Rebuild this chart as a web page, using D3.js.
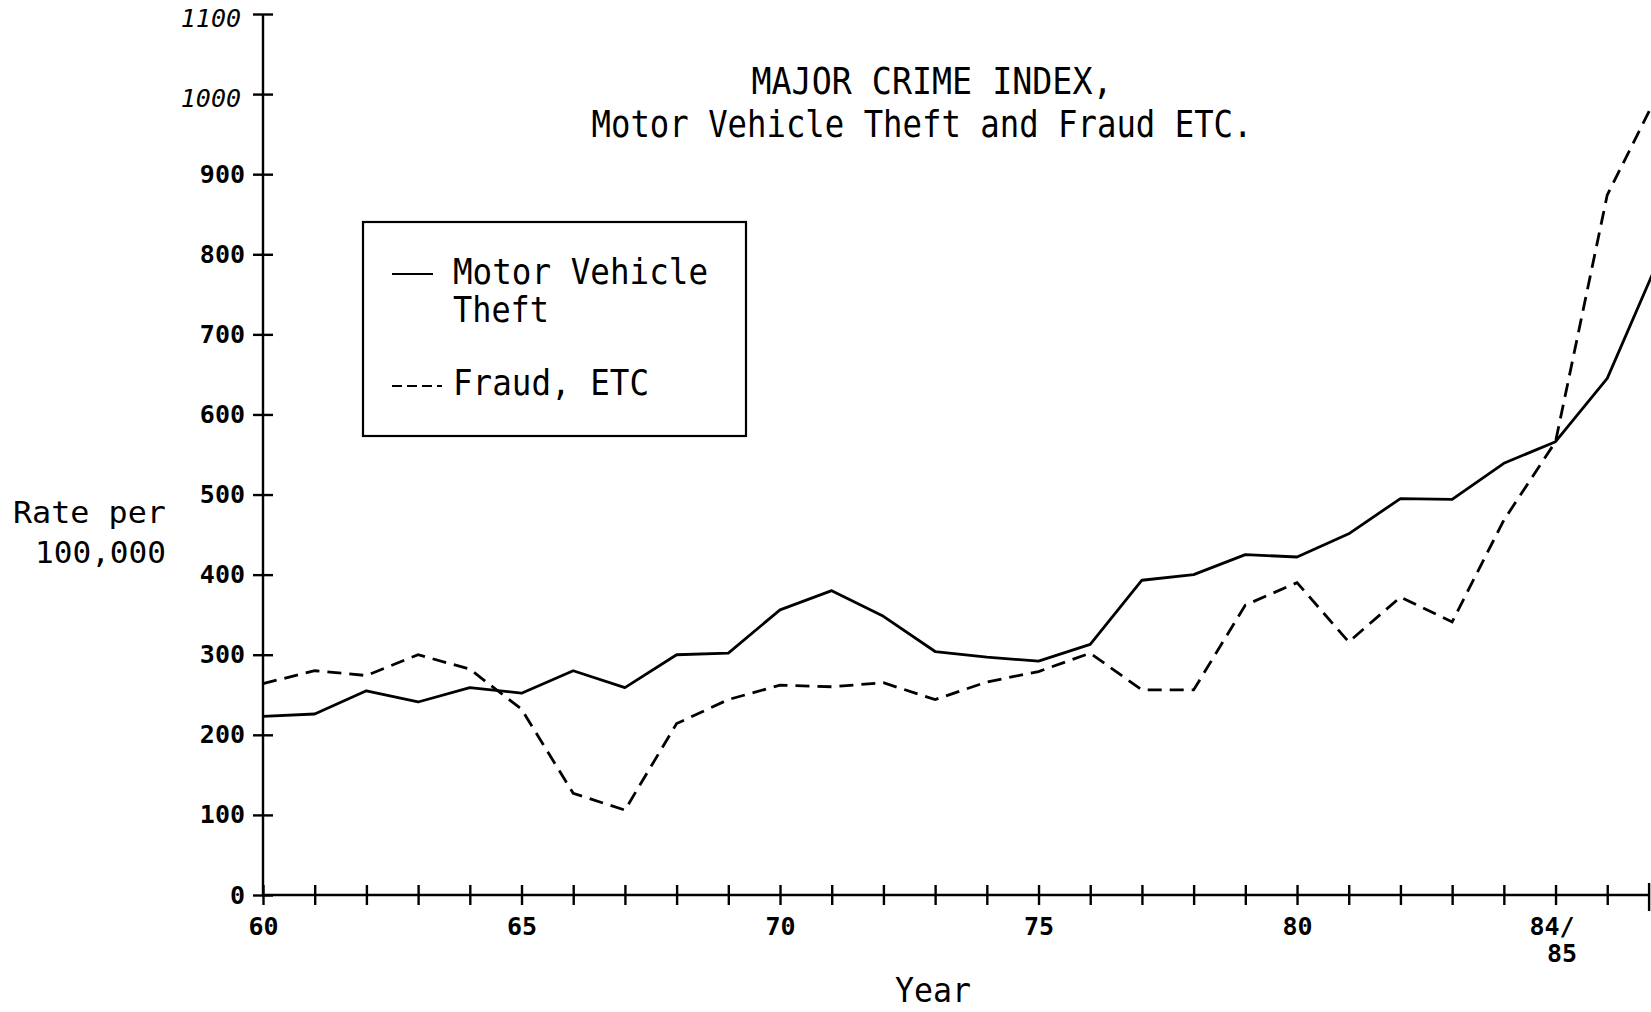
<!DOCTYPE html>
<html lang="en">
<head>
<meta charset="UTF-8">
<title>Major Crime Index</title>
<script src="https://cdn.jsdelivr.net/npm/d3@7"></script>
<style>
	html, body { margin: 0; padding: 0; background: #fff; }
	svg { display: block; }
	text { font-family: "DejaVu Sans Mono", monospace; fill: #000; }
	.tick text { font-size: 25px; font-weight: bold; }
	.tick line, .domain { stroke: #000; stroke-width: 2.4; }
</style>
</head>
<body>
<svg id="chart" width="1651" height="1012"></svg>
<script>
// year index 0 = 1960 ... 25 = 84/85, the last two run off the page edge
var xLabels = {0: "60", 5: "65", 10: "70", 15: "75", 20: "80", 25: "84/85"};
var yTicks = [0, 100, 200, 300, 400, 500, 600, 700, 800, 900, 1000, 1100];

var motorVehicle = [223, 226, 255, 241, 259, 252, 280, 259, 300, 302, 356, 380, 348, 304,
	297, 292, 313, 393, 400, 425, 422, 451, 495, 494, 539, 566, 645, 794];
var fraud = [264, 280, 274, 300, 282, 232, 127, 106, 214, 244, 262, 260, 265, 244,
	266, 279, 302, 256, 256, 362, 390, 316, 372, 341, 468, 566, 874, 1003];

var svg = d3.select("#chart");

var x = d3.scaleLinear().domain([0, 26.8]).range([263, 1648.6]);
var y = d3.scaleLinear().domain([0, 1100]).range([895, 14]);

function squeeze(sel, w) {
	sel.attr("textLength", w).attr("lengthAdjust", "spacingAndGlyphs");
}

// y axis
var gy = svg.append("g")
	.attr("transform", "translate(" + x(0) + ",0)")
	.call(d3.axisLeft(y).tickValues(yTicks).tickFormat(d3.format("d"))
		.tickSize(10).tickSizeOuter(0).tickPadding(8));
gy.selectAll(".tick line").attr("x1", 10);
gy.selectAll(".tick text")
	.filter(function(d){ return d >= 1000; })
	.style("font-style", "italic")
	.style("font-weight", "normal")
	.attr("x", -22)
	.attr("dy", "0.5em");
gy.select(".domain").attr("d", "M0," + y(0) + "V" + y(1100));

// x axis
var xTickVals = d3.range(0, 27).concat([26.8]);
var gx = svg.append("g")
	.attr("transform", "translate(0," + y(0) + ")")
	.call(d3.axisBottom(x).tickValues(xTickVals).tickSize(10).tickSizeOuter(0).tickPadding(12)
		.tickFormat(function(d){ return xLabels[d] || ""; }));
gx.selectAll(".tick line").attr("y1", -10);
gx.selectAll(".tick").filter(function(d){ return d === 26.8; })
	.select("line").attr("y1", -12).attr("y2", 16);
gx.select(".domain").attr("d", "M" + x(0) + ",0H" + x(26.8));
gx.selectAll(".tick text").filter(function(d){ return d === 25; })
	.text(null)
	.each(function(){
		var t = d3.select(this);
		t.append("tspan").attr("x", -4).text("84/");
		t.append("tspan").attr("x", 6).attr("dy", "1.1em").text("85");
	});

// lines
var line = d3.line()
	.x(function(d, i){ return x(i); })
	.y(function(d){ return y(d); });

svg.append("path")
	.datum(motorVehicle)
	.attr("d", line)
	.attr("fill", "none")
	.attr("stroke", "#000")
	.attr("stroke-width", 2.8)
	.attr("stroke-linejoin", "round");

svg.append("path")
	.datum(fraud)
	.attr("d", line)
	.attr("fill", "none")
	.attr("stroke", "#000")
	.attr("stroke-width", 2.8)
	.attr("stroke-dasharray", "14,8");

// title
svg.append("text").attr("x", 932).attr("y", 94).attr("text-anchor", "middle")
	.style("font-size", "38px").text("MAJOR CRIME INDEX,").call(squeeze, 361);
svg.append("text").attr("x", 922).attr("y", 137).attr("text-anchor", "middle")
	.style("font-size", "38px").text("Motor Vehicle Theft and Fraud ETC.").call(squeeze, 661);

// legend
var lg = svg.append("g");
lg.append("rect").attr("x", 363).attr("y", 222).attr("width", 383).attr("height", 214)
	.attr("fill", "none").attr("stroke", "#000").attr("stroke-width", 2.2);
lg.append("line").attr("x1", 392).attr("x2", 433).attr("y1", 274).attr("y2", 274)
	.attr("stroke", "#000").attr("stroke-width", 2.2);
lg.append("line").attr("x1", 392).attr("x2", 442).attr("y1", 386).attr("y2", 386)
	.attr("stroke", "#000").attr("stroke-width", 2.2).attr("stroke-dasharray", "10,5");
lg.append("text").attr("x", 453).attr("y", 284).style("font-size", "36px")
	.text("Motor Vehicle").call(squeeze, 255);
lg.append("text").attr("x", 453).attr("y", 322).style("font-size", "36px")
	.text("Theft").call(squeeze, 96);
lg.append("text").attr("x", 453).attr("y", 395).style("font-size", "36px")
	.text("Fraud, ETC").call(squeeze, 196);

// axis titles
svg.append("text").attr("x", 166).attr("y", 523).attr("text-anchor", "end")
	.style("font-size", "31px").text("Rate per").call(squeeze, 153);
svg.append("text").attr("x", 166).attr("y", 563).attr("text-anchor", "end")
	.style("font-size", "31px").text("100,000").call(squeeze, 131);
svg.append("text").attr("x", 933).attr("y", 1002).attr("text-anchor", "middle")
	.style("font-size", "34px").text("Year").call(squeeze, 76);
</script>
</body>
</html>
